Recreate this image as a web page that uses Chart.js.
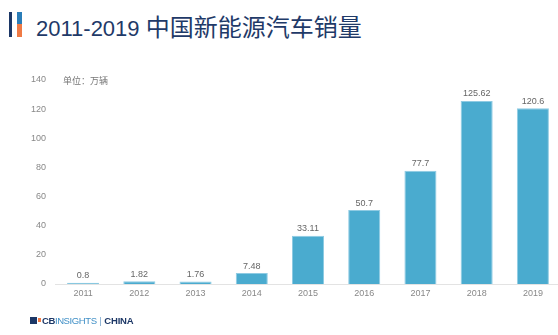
<!DOCTYPE html>
<html>
<head>
<meta charset="utf-8">
<script src="https://cdn.jsdelivr.net/npm/chart.js@4"></script>
<style>
html,body{margin:0;padding:0;background:#fff;width:558px;height:335px;overflow:hidden;position:relative;font-family:"Liberation Sans",Arial,sans-serif;}
#wrap{position:absolute;left:0;top:0;width:561px;height:335px;}
#title{position:absolute;left:36px;top:11px;color:#1f3a68;font-size:22px;white-space:nowrap;line-height:30px;}
#title .cn{font-family:"Noto Sans CJK SC",sans-serif;font-size:24px;}
.ib{position:absolute;}
#unit{position:absolute;left:63px;top:74px;font-family:"Noto Sans CJK SC",sans-serif;font-size:9px;color:#777;white-space:nowrap;}
#logo{position:absolute;left:30px;top:314px;height:14px;white-space:nowrap;font-size:9.5px;line-height:14px;}
</style>
</head>
<body>
<div class="ib" style="left:9px;top:12px;width:3px;height:25px;background:#1c3766;"></div>
<div class="ib" style="left:17px;top:12px;width:5px;height:12px;background:#2a7db8;"></div>
<div class="ib" style="left:17px;top:24px;width:5px;height:13px;background:#ef7a45;"></div>
<div id="title">2011-2019 <span class="cn">中国新能源汽车销量</span></div>
<div id="wrap"><canvas id="c" width="561" height="335"></canvas></div>
<div id="unit">单位：万辆</div>
<div id="logo">
<span style="display:inline-block;width:7px;height:7px;background:#1c3766;vertical-align:middle;margin-top:-2px;"></span><span style="display:inline-block;width:3px;height:4px;background:#ef7a45;vertical-align:middle;margin-top:-2px;margin-left:1px;"></span><span style="font-weight:bold;color:#1c3766;letter-spacing:-0.4px;margin-left:1px;">CB</span><span style="color:#3f8fc6;letter-spacing:-0.4px;">INSIGHTS</span><span style="color:#7aa6cc;"> | </span><span style="color:#1c3766;font-weight:bold;letter-spacing:-0.2px;">CHINA</span>
</div>
<script>
const years = ["2011","2012","2013","2014","2015","2016","2017","2018","2019"];
const sales = [0.8, 1.82, 1.76, 7.48, 33.11, 50.7, 77.7, 125.62, 120.6];
const valueLabels = ["0.8","1.82","1.76","7.48","33.11","50.7","77.7","125.62","120.6"];
const yTicks = [0,20,40,60,80,100,120,140];

const labelPlugin = {
  id:'valueLabels',
  afterDatasetsDraw(chart){
    const ctx = chart.ctx;
    const meta = chart.getDatasetMeta(0);
    ctx.save();
    ctx.font = '9px "Liberation Sans", Arial, sans-serif';
    ctx.fillStyle = '#666';
    ctx.textAlign = 'center';
    ctx.textBaseline = 'middle';
    meta.data.forEach((bar,i)=>{
      ctx.fillText(valueLabels[i], bar.x, bar.y - 7);
    });
    ctx.restore();
  }
};

new Chart(document.getElementById('c'), {
  type:'bar',
  data:{labels:years, datasets:[{data:sales, backgroundColor:'#4aabcf', borderColor:'#8fcbe3', borderWidth:1, barPercentage:0.57, categoryPercentage:1}]},
  options:{
    responsive:false, animation:false,
    layout:{padding:{top:80,left:0,right:0,bottom:0}},
    plugins:{legend:{display:false}, tooltip:{enabled:false}},
    scales:{
      x:{
        grid:{display:false, drawTicks:false},
        border:{display:true, color:'#e3e3e3'},
        ticks:{color:'#888', font:{size:9, family:'"Liberation Sans", Arial, sans-serif'}, padding:4, maxRotation:0},
        afterFit(s){ s.height = 51; }
      },
      y:{
        min:0, max:140,
        grid:{display:false, drawTicks:false},
        border:{display:false},
        afterBuildTicks(s){ s.ticks = yTicks.map(v=>({value:v})); },
        ticks:{color:'#888', font:{size:9, family:'"Liberation Sans", Arial, sans-serif'}, padding:9},
        afterFit(s){ s.width = 55; }
      }
    }
  },
  plugins:[labelPlugin]
});
</script>
</body>
</html>
